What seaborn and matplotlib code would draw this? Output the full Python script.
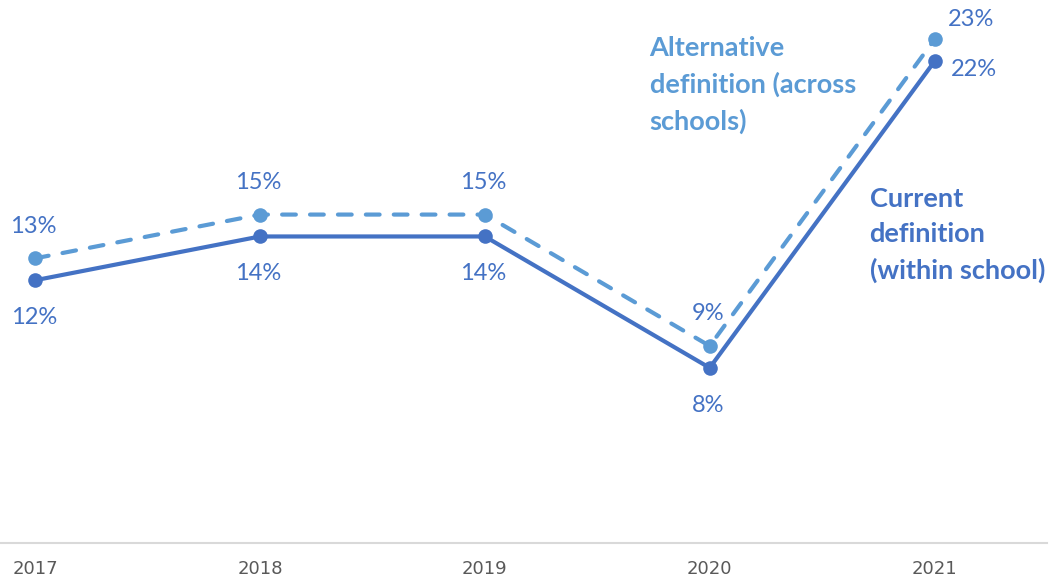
import matplotlib
matplotlib.use("Agg")
import matplotlib.pyplot as plt
import seaborn as sns
import pandas as pd

# dados
years = ["2017", "2018", "2019", "2020", "2021"]
current_def = [12, 14, 14, 8, 22]
alternative_def = [13, 15, 15, 9, 23]

CUR_COLOR = "#4472C4"
ALT_COLOR = "#5B9BD5"
LABEL_COLOR = "#4472C4"
TICK_COLOR = "#595959"

sns.set_style("white")
plt.rcParams["font.family"] = ["Lato", "DejaVu Sans"]

fig = plt.figure(figsize=(10.54, 5.85), dpi=100)
ax = fig.add_axes([0, 42 / 585, 1047 / 1054, 543 / 585])

df = pd.DataFrame({"year": years, "current": current_def, "alternative": alternative_def})

# linha alternativa (tracejada)
sns.lineplot(data=df, x="year", y="alternative", ax=ax, color=ALT_COLOR, linewidth=3,
             marker="o", markersize=10.5, markeredgewidth=0, sort=False,
             linestyle=(0, (3.3, 3.4)), dash_capstyle="round")
# linha atual (continua)
sns.lineplot(data=df, x="year", y="current", ax=ax, color=CUR_COLOR, linewidth=3,
             marker="o", markersize=10.5, markeredgewidth=0, sort=False)

ax.set_xlim(-0.156, 4.5)
ax.set_ylim(0, 24.8)

# rotulos de dados
for i, (c, a) in enumerate(zip(current_def, alternative_def)):
    if i == len(years) - 1:
        ax.annotate(f"{a}%", (i, a), xytext=(26, 14), textcoords="offset points",
                    ha="center", va="center", fontsize=17, color=LABEL_COLOR)
        ax.annotate(f"{c}%", (i, c), xytext=(28, -6), textcoords="offset points",
                    ha="center", va="center", fontsize=17, color=LABEL_COLOR)
    else:
        ax.annotate(f"{a}%", (i, a), xytext=(-1, 23), textcoords="offset points",
                    ha="center", va="center", fontsize=17, color=LABEL_COLOR)
        ax.annotate(f"{c}%", (i, c), xytext=(-1, -27), textcoords="offset points",
                    ha="center", va="center", fontsize=17, color=LABEL_COLOR)

# rotulos das series
ax.text(2.733, 23.15, "Alternative\ndefinition (across\nschools)", ha="left", va="top",
        fontsize=19.5, fontweight="bold", color=ALT_COLOR, linespacing=1.55)
ax.text(3.711, 16.25, "Current\ndefinition\n(within school)", ha="left", va="top",
        fontsize=19.5, fontweight="bold", color=CUR_COLOR, linespacing=1.55)

ax.set_xlabel("")
ax.set_ylabel("")
ax.set_yticks([])
ax.tick_params(axis="x", length=0, pad=12, labelsize=13, labelcolor=TICK_COLOR)
for lbl in ax.get_xticklabels():
    lbl.set_family(["Liberation Sans Narrow", "DejaVu Sans"])

for side in ["top", "left", "right"]:
    ax.spines[side].set_visible(False)
ax.spines["bottom"].set_color("#D9D9D9")
ax.spines["bottom"].set_linewidth(1.5)

fig.savefig("out.png", dpi=100)
